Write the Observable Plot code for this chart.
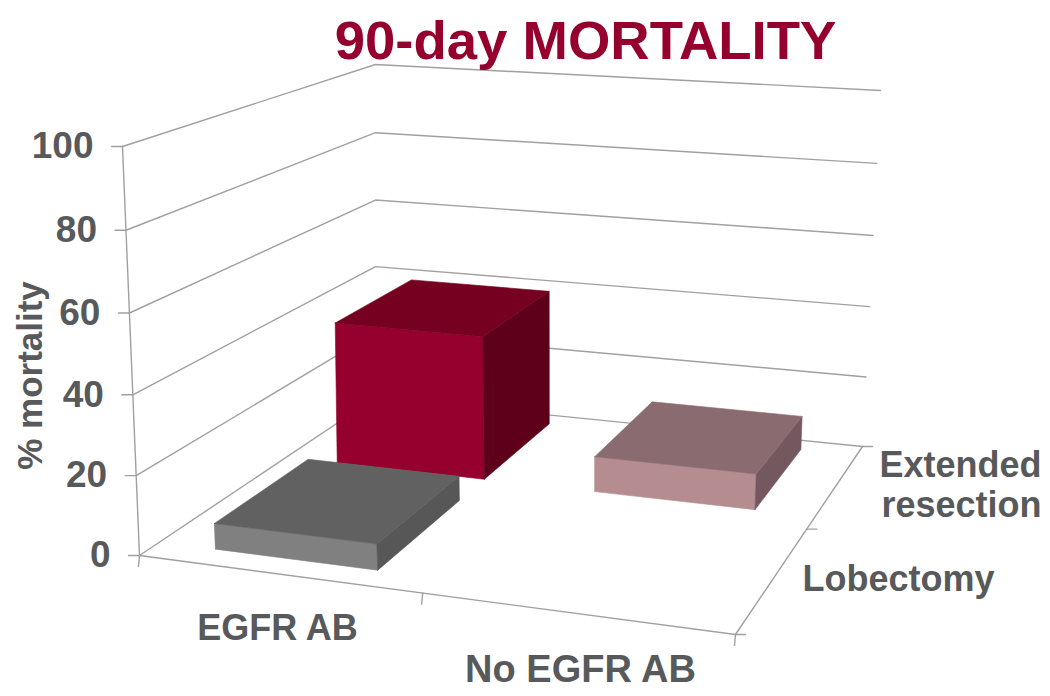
<!DOCTYPE html>
<html><head><meta charset="utf-8">
<style>html,body{margin:0;padding:0;background:#fff}svg{display:block}</style>
<script src="https://cdn.jsdelivr.net/npm/d3@7"></script>
<script src="https://cdn.jsdelivr.net/npm/@observablehq/plot@0.6"></script>
</head><body><div id="chart"></div>
<script>
const title = "90-day MORTALITY";
const yLabel = "% mortality";
const categories = ["EGFR AB", "No EGFR AB"];
const seriesNames = ["Lobectomy", "Extended resection"];
const lobectomyValues = [6.5, null];
const extendedValues = [39, 9.5];
const yTicks = [0, 20, 40, 60, 80, 100];

// Camera of the 3D box: where its floor and its ceiling corners land on the page
const floorCorners = [[139,555],[735,634],[862,446],[375,397]];
const ceilCorners  = [[122,146],[752,197],[880,90],[375,64]];
const barW = 0.291, barD = 0.372, vPersp = 0.03;

function homography(q){
  const [[x0,y0],[x1,y1],[x2,y2],[x3,y3]] = q;
  const dx1=x1-x2, dx2=x3-x2, sx=x0-x1+x2-x3, dy1=y1-y2, dy2=y3-y2, sy=y0-y1+y2-y3;
  const den=dx1*dy2-dx2*dy1, g=(sx*dy2-dx2*sy)/den, h=(dx1*sy-sx*dy1)/den;
  const a=x1-x0+g*x1,b=x3-x0+h*x3,d=y1-y0+g*y1,e=y3-y0+h*y3;
  return (u,v)=>{const w=g*u+h*v+1;return [(a*u+b*v+x0)/w,(d*u+e*v+y0)/w];};
}
const hFloor=homography(floorCorners), hCeil=homography(ceilCorners);
const project=(u,v,val)=>{
  const p=hFloor(u,v),q=hCeil(u,v),r=val/100,t=r/(1+vPersp*(1-r));
  return {x:p[0]+(q[0]-p[0])*t,y:p[1]+(q[1]-p[1])*t};
};

const marks=[];
const stroke="#a0a0a0", sw=1.4;
const poly=(pts,o)=>Plot.line(pts,{x:"x",y:"y",curve:"linear",...o});
// walls and floor
for(const t of yTicks){
  marks.push(poly([project(0,0,t),project(0,1,t),project(1,1,t)],{stroke,strokeWidth:sw}));
  const a=project(0,0,t);
  marks.push(poly([a,{x:a.x-11,y:a.y}],{stroke,strokeWidth:sw}));
}
marks.push(poly([project(0,0,100),project(0,0,0),project(1,0,0),project(1,1,0)],{stroke,strokeWidth:sw}));
for(const u of [0,.5,1]){const a=project(u,0,0);marks.push(poly([a,{x:a.x-1,y:a.y+11}],{stroke,strokeWidth:sw}));}
for(const v of [0,.5,1]){const a=project(1,v,0);marks.push(poly([a,{x:a.x+10,y:a.y}],{stroke,strokeWidth:sw}));}

// bars: back to front
const bars=[
 {c:0,s:1,value:extendedValues[0],front:"#96002f",top:"#75001f",side:"#5e0019"},
 {c:1,s:1,value:extendedValues[1],front:"#b58d91",top:"#8a6b70",side:"#745860"},
 {c:0,s:0,value:lobectomyValues[0],front:"#808080",top:"#616161",side:"#575757"}
];
for(const b of bars){
  const u0=(b.c+.5)/2-barW/2-.001,u1=u0+barW,v0=(b.s+.5)/2-.18,v1=v0+barD,h=b.value;
  const face=(pts,fill)=>marks.push(poly([...pts,pts[0]],{fill,stroke:fill,strokeWidth:.6}));
  face([project(u0,v0,0),project(u1,v0,0),project(u1,v0,h),project(u0,v0,h)],b.front);
  face([project(u1,v0,0),project(u1,v1,0),project(u1,v1,h),project(u1,v0,h)],b.side);
  face([project(u0,v0,h),project(u1,v0,h),project(u1,v1,h),project(u0,v1,h)],b.top);
}

// labels
const font={fontFamily:"'Liberation Sans',Arial,sans-serif",fontWeight:"bold"};
const grey="#58595b";
marks.push(Plot.text(yTicks,{x:t=>project(0,0,t).x-29,y:t=>project(0,0,t).y,text:d=>String(d),textAnchor:"end",fill:grey,fontSize:37,...font}));
marks.push(Plot.text([title],{x:[585],y:[41],text:d=>d,fill:"#96002f",fontSize:54.5,...font}));
marks.push(Plot.text([yLabel],{x:[30],y:[375],text:d=>d,rotate:-90,fill:grey,fontSize:35,...font}));
marks.push(Plot.text([categories[0]],{x:[277],y:[628],text:d=>d,fill:grey,fontSize:36,...font}));
marks.push(Plot.text([categories[1]],{x:[580],y:[669],text:d=>d,fill:grey,fontSize:38,...font}));
marks.push(Plot.text(["Extended","resection"],{x:[1041,1041],y:[465,505],text:d=>d,textAnchor:"end",fill:grey,fontSize:36,...font}));
marks.push(Plot.text([seriesNames[0]],{x:[898],y:[579],text:d=>d,fill:grey,fontSize:36,...font}));

const chart=Plot.plot({width:1050,height:696,margin:0,
  x:{domain:[0,1050],range:[0,1050],axis:null},
  y:{domain:[0,696],range:[0,696],axis:null},
  marks});
document.getElementById("chart").append(chart);
</script></body></html>
